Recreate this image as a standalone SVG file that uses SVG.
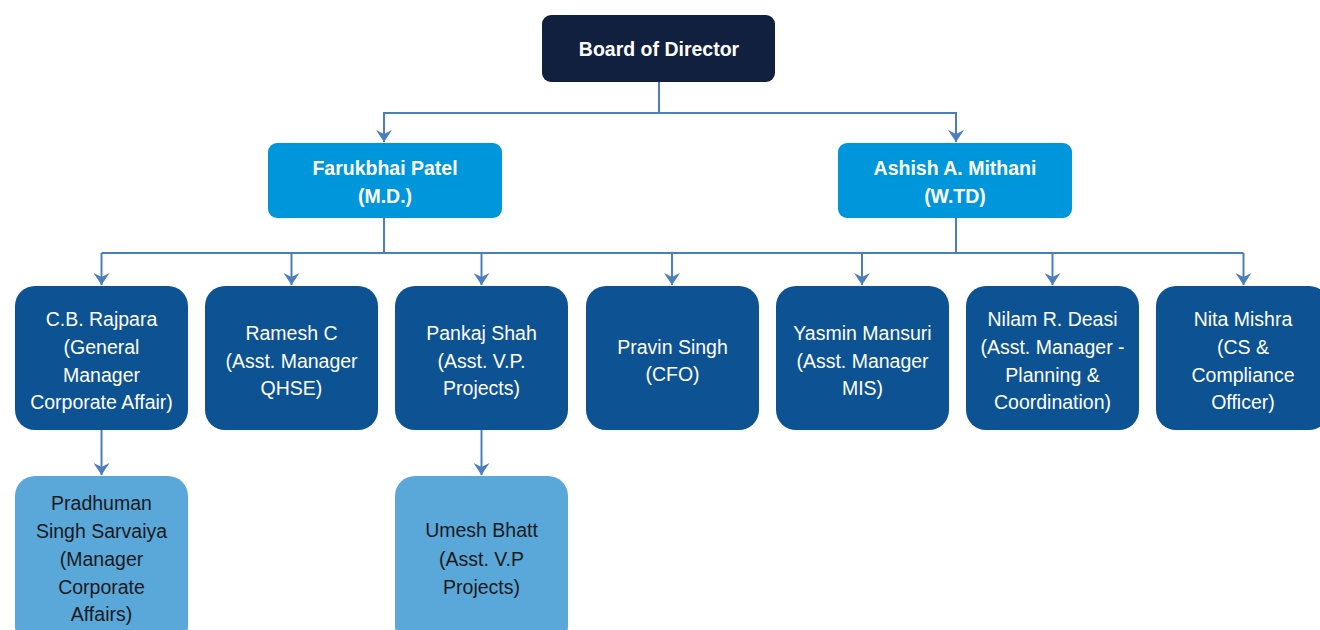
<svg xmlns="http://www.w3.org/2000/svg" width="1320" height="630" viewBox="0 0 1320 630">
<defs>
<style>
.t{font-family:"Liberation Sans",Arial,sans-serif;font-size:19.5px;text-anchor:middle}
.b{font-weight:bold;fill:#ffffff}
.w{fill:#ffffff}
.k{fill:#1a1a1a}
.top{fill:#12203f}
.l1{fill:#0096db}
.l2{fill:#0d5293}
.l3{fill:#5aa7da}
.c{fill:none;stroke:#4a7ebf;stroke-width:2}
</style>
<marker id="arr" viewBox="0 0 12 16" refX="12" refY="8" markerWidth="12" markerHeight="16" markerUnits="userSpaceOnUse" orient="auto">
<path d="M0,0 L12,8 L0,16 L4,8 Z" fill="#4a7ebf"/>
</marker>
</defs>
<rect width="1320" height="630" fill="#ffffff"/>
<g id="connectors">
<path class="c" d="M659,82 V113 H384 V142" marker-end="url(#arr)"/>
<path class="c" d="M659,113 H956 V142" marker-end="url(#arr)"/>
<path class="c" d="M384,218 V253"/>
<path class="c" d="M956,218 V253"/>
<path class="c" d="M101.5,253 H1243.5"/>
<path class="c" d="M101.5,253 V285" marker-end="url(#arr)"/>
<path class="c" d="M291.5,253 V285" marker-end="url(#arr)"/>
<path class="c" d="M481.5,253 V285" marker-end="url(#arr)"/>
<path class="c" d="M672,253 V285" marker-end="url(#arr)"/>
<path class="c" d="M862,253 V285" marker-end="url(#arr)"/>
<path class="c" d="M1052.5,253 V285" marker-end="url(#arr)"/>
<path class="c" d="M1243.5,253 V285" marker-end="url(#arr)"/>
<path class="c" d="M101.5,430 V475" marker-end="url(#arr)"/>
<path class="c" d="M481.5,430 V475" marker-end="url(#arr)"/>
</g>
<g id="board">
<rect class="top" x="542" y="15" width="233" height="67" rx="9"/>
<text class="t b" x="659" y="56">Board of Director</text>
</g>
<g id="farukbhai">
<rect class="l1" x="268" y="143" width="234" height="75" rx="9"/>
<text class="t b" x="385" y="175">Farukbhai Patel</text>
<text class="t b" x="385" y="203">(M.D.)</text>
</g>
<g id="ashish">
<rect class="l1" x="838" y="143" width="234" height="75" rx="9"/>
<text class="t b" x="955" y="175">Ashish A. Mithani</text>
<text class="t b" x="955" y="203">(W.TD)</text>
</g>
<g id="rajpara">
<rect class="l2" x="15" y="286" width="173" height="144" rx="20"/>
<text class="t w" x="101.5" y="326">C.B. Rajpara</text>
<text class="t w" x="101.5" y="354">(General</text>
<text class="t w" x="101.5" y="382">Manager</text>
<text class="t w" x="101.5" y="409">Corporate Affair)</text>
</g>
<g id="ramesh">
<rect class="l2" x="205" y="286" width="173" height="144" rx="20"/>
<text class="t w" x="291.5" y="340">Ramesh C</text>
<text class="t w" x="291.5" y="368">(Asst. Manager</text>
<text class="t w" x="291.5" y="395">QHSE)</text>
</g>
<g id="pankaj">
<rect class="l2" x="395" y="286" width="173" height="144" rx="20"/>
<text class="t w" x="481.5" y="340">Pankaj Shah</text>
<text class="t w" x="481.5" y="368">(Asst. V.P.</text>
<text class="t w" x="481.5" y="395">Projects)</text>
</g>
<g id="pravin">
<rect class="l2" x="586" y="286" width="173" height="144" rx="20"/>
<text class="t w" x="672.5" y="354">Pravin Singh</text>
<text class="t w" x="672.5" y="381">(CFO)</text>
</g>
<g id="yasmin">
<rect class="l2" x="776" y="286" width="173" height="144" rx="20"/>
<text class="t w" x="862.5" y="340">Yasmin Mansuri</text>
<text class="t w" x="862.5" y="368">(Asst. Manager</text>
<text class="t w" x="862.5" y="395">MIS)</text>
</g>
<g id="nilam">
<rect class="l2" x="966" y="286" width="173" height="144" rx="20"/>
<text class="t w" x="1052.5" y="326">Nilam R. Deasi</text>
<text class="t w" x="1052.5" y="354">(Asst. Manager -</text>
<text class="t w" x="1052.5" y="382">Planning &amp;</text>
<text class="t w" x="1052.5" y="409">Coordination)</text>
</g>
<g id="nita">
<rect class="l2" x="1156" y="286" width="173" height="144" rx="20"/>
<text class="t w" x="1243" y="326">Nita Mishra</text>
<text class="t w" x="1243" y="354">(CS &amp;</text>
<text class="t w" x="1243" y="382">Compliance</text>
<text class="t w" x="1243" y="409">Officer)</text>
</g>
<g id="pradhuman">
<rect class="l3" x="15" y="476" width="173" height="170" rx="20"/>
<text class="t k" x="101.5" y="510">Pradhuman</text>
<text class="t k" x="101.5" y="538">Singh Sarvaiya</text>
<text class="t k" x="101.5" y="566">(Manager</text>
<text class="t k" x="101.5" y="594">Corporate</text>
<text class="t k" x="101.5" y="621">Affairs)</text>
</g>
<g id="umesh">
<rect class="l3" x="395" y="476" width="173" height="170" rx="20"/>
<text class="t k" x="481.5" y="537">Umesh Bhatt</text>
<text class="t k" x="481.5" y="566">(Asst. V.P</text>
<text class="t k" x="481.5" y="594">Projects)</text>
</g>
</svg>
